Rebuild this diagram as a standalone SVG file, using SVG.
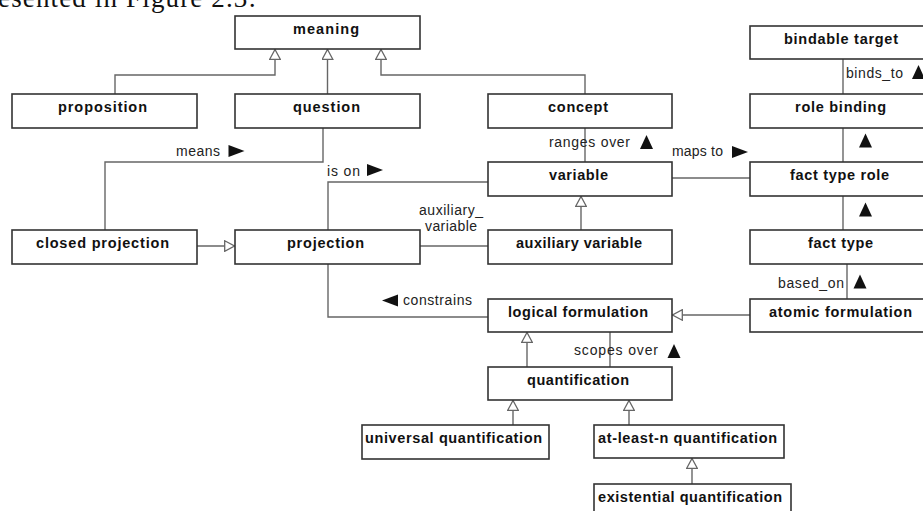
<svg xmlns="http://www.w3.org/2000/svg" xmlns:xlink="http://www.w3.org/1999/xlink" width="923" height="511" viewBox="0 0 923 511">
  <style>
    .box { fill: #ffffff; stroke: #333333; stroke-width: 1.6; }
    .name { font-family: "Liberation Sans", Arial, sans-serif; font-size: 14.5px; font-weight: bold; fill: #111111; text-anchor: middle; }
    .lbl { font-family: "Liberation Sans", Arial, sans-serif; font-size: 14px; fill: #222222; }
    .gen { fill: none; stroke: #666666; stroke-width: 1.4; marker-end: url(#hollow); }
    .assoc { fill: none; stroke: #666666; stroke-width: 1.4; }
    .dir { fill: #111111; }
    .prose { font-family: "Liberation Serif", "Times New Roman", serif; font-size: 27px; fill: #111111; }
  </style>
  <defs>
    <!-- hollow generalization head -->
    <marker id="hollow" viewBox="0 0 11 12" refX="11" refY="6" markerWidth="11" markerHeight="12" markerUnits="userSpaceOnUse" orient="auto">
      <path d="M0.7,0.7 L10.5,6 L0.7,11.3 Z" fill="#ffffff" stroke="#666666" stroke-width="1.3"/>
    </marker>
    <!-- reading-direction triangles -->
    <path id="triUp" d="M0,-7 L6.5,7 L-6.5,7 Z"/>
    <path id="triRight" d="M-8,-6 L8,0 L-8,6 Z"/>
    <path id="triLeft" d="M8,-6 L-8,0 L8,6 Z"/>
  </defs>

  <rect width="923" height="511" fill="#ffffff"/>

  <text class="prose" x="-2" y="6.5" textLength="258" lengthAdjust="spacing">esented in Figure 2.3:</text>

  <g id="connectors">
    <!-- generalizations -->
    <path class="gen" d="M115,94 V75 H275 V49"/>
    <path class="gen" d="M327.5,94 V49"/>
    <path class="gen" d="M585,94 V75 H381 V49"/>
    <path class="gen" d="M197,246 H235"/>
    <path class="gen" d="M581,230 V196"/>
    <path class="gen" d="M750,315 H672"/>
    <path class="gen" d="M527,367 V332"/>
    <path class="gen" d="M513,425 V400"/>
    <path class="gen" d="M629,425 V400"/>
    <path class="gen" d="M692,484 V458"/>

    <!-- associations -->
    <path class="assoc" d="M323,128 V162 H105 V230"/>
    <path class="assoc" d="M328,230 V182 H488"/>
    <path class="assoc" d="M328,264 V317 H488"/>
    <path class="assoc" d="M420,246 H488"/>
    <path class="assoc" d="M585,128 V162"/>
    <path class="assoc" d="M672,178 H750"/>
    <path class="assoc" d="M843,59 V94"/>
    <path class="assoc" d="M843,128 V162"/>
    <path class="assoc" d="M843,196 V230"/>
    <path class="assoc" d="M847,264 V299"/>
    <path class="assoc" d="M610,332 V367"/>

    <!-- association labels -->
    <text class="lbl" x="176" y="156" textLength="44" lengthAdjust="spacing">means</text>
    <use href="#triRight" class="dir" x="236.5" y="151"/>
    <text class="lbl" x="327" y="175.5" textLength="33" lengthAdjust="spacing">is on</text>
    <use href="#triRight" class="dir" x="375" y="170"/>
    <text class="lbl" x="451" y="214.5" text-anchor="middle" textLength="64" lengthAdjust="spacing">auxiliary_</text>
    <text class="lbl" x="451" y="231" text-anchor="middle" textLength="52" lengthAdjust="spacing">variable</text>
    <use href="#triLeft" class="dir" x="390" y="300.5"/>
    <text class="lbl" x="403" y="304.5" textLength="69" lengthAdjust="spacing">constrains</text>
    <text class="lbl" x="549" y="146.5" textLength="81" lengthAdjust="spacing">ranges over</text>
    <use href="#triUp" class="dir" x="646.5" y="142"/>
    <text class="lbl" x="672" y="155.5" textLength="51" lengthAdjust="spacing">maps to</text>
    <use href="#triRight" class="dir" x="740" y="152"/>
    <text class="lbl" x="846" y="77.5" textLength="57" lengthAdjust="spacing">binds_to</text>
    <use href="#triUp" class="dir" x="918.5" y="72"/>
    <use href="#triUp" class="dir" x="865.5" y="140.5"/>
    <use href="#triUp" class="dir" x="865.5" y="209.5"/>
    <text class="lbl" x="844" y="287.5" text-anchor="end" textLength="66" lengthAdjust="spacing">based_on</text>
    <use href="#triUp" class="dir" x="860" y="281.5"/>
    <text class="lbl" x="574" y="354.5" textLength="84" lengthAdjust="spacing">scopes over</text>
    <use href="#triUp" class="dir" x="674" y="351"/>
  </g>

  <g id="meaning">
    <rect class="box" x="235" y="16" width="185" height="33"/>
    <text class="name" x="326" y="33.5" textLength="66" lengthAdjust="spacing">meaning</text>
  </g>
  <g id="proposition">
    <rect class="box" x="12" y="94" width="185" height="34"/>
    <text class="name" x="102.5" y="111.5" textLength="89" lengthAdjust="spacing">proposition</text>
  </g>
  <g id="question">
    <rect class="box" x="235" y="94" width="185" height="34"/>
    <text class="name" x="326.5" y="111.5" textLength="67" lengthAdjust="spacing">question</text>
  </g>
  <g id="concept">
    <rect class="box" x="488" y="94" width="184" height="34"/>
    <text class="name" x="578" y="111.5" textLength="60" lengthAdjust="spacing">concept</text>
  </g>
  <g id="bindable-target">
    <rect class="box" x="750" y="26" width="184" height="33"/>
    <text class="name" x="841" y="43.5" textLength="114" lengthAdjust="spacing">bindable target</text>
  </g>
  <g id="role-binding">
    <rect class="box" x="750" y="94" width="184" height="34"/>
    <text class="name" x="840.5" y="111.5" textLength="91" lengthAdjust="spacing">role binding</text>
  </g>
  <g id="variable">
    <rect class="box" x="488" y="162" width="184" height="34"/>
    <text class="name" x="578.5" y="179.5" textLength="59" lengthAdjust="spacing">variable</text>
  </g>
  <g id="fact-type-role">
    <rect class="box" x="750" y="162" width="184" height="34"/>
    <text class="name" x="839.5" y="179.5" textLength="99" lengthAdjust="spacing">fact type role</text>
  </g>
  <g id="closed-projection">
    <rect class="box" x="12" y="230" width="185" height="34"/>
    <text class="name" x="102.5" y="247.5" textLength="133" lengthAdjust="spacing">closed projection</text>
  </g>
  <g id="projection">
    <rect class="box" x="235" y="230" width="185" height="34"/>
    <text class="name" x="325.5" y="247.5" textLength="77" lengthAdjust="spacing">projection</text>
  </g>
  <g id="auxiliary-variable">
    <rect class="box" x="488" y="230" width="184" height="34"/>
    <text class="name" x="579" y="247.5" textLength="126" lengthAdjust="spacing">auxiliary variable</text>
  </g>
  <g id="fact-type">
    <rect class="box" x="750" y="230" width="184" height="34"/>
    <text class="name" x="840.5" y="247.5" textLength="65" lengthAdjust="spacing">fact type</text>
  </g>
  <g id="logical-formulation">
    <rect class="box" x="488" y="299" width="184" height="33"/>
    <text class="name" x="578" y="316.5" textLength="140" lengthAdjust="spacing">logical formulation</text>
  </g>
  <g id="atomic-formulation">
    <rect class="box" x="750" y="299" width="184" height="33"/>
    <text class="name" x="840.5" y="316.5" textLength="143" lengthAdjust="spacing">atomic formulation</text>
  </g>
  <g id="quantification">
    <rect class="box" x="488" y="367" width="184" height="33"/>
    <text class="name" x="578" y="384.5" textLength="102" lengthAdjust="spacing">quantification</text>
  </g>
  <g id="universal-quantification">
    <rect class="box" x="362" y="425" width="187" height="34"/>
    <text class="name" x="453.5" y="442.5" textLength="177" lengthAdjust="spacing">universal quantification</text>
  </g>
  <g id="at-least-n-quantification">
    <rect class="box" x="594" y="425" width="190" height="33"/>
    <text class="name" x="687.5" y="442.5" textLength="179" lengthAdjust="spacing">at-least-n quantification</text>
  </g>
  <g id="existential-quantification">
    <rect class="box" x="594" y="484" width="197" height="40"/>
    <text class="name" x="690" y="501.5" textLength="184" lengthAdjust="spacing">existential quantification</text>
  </g>
</svg>
